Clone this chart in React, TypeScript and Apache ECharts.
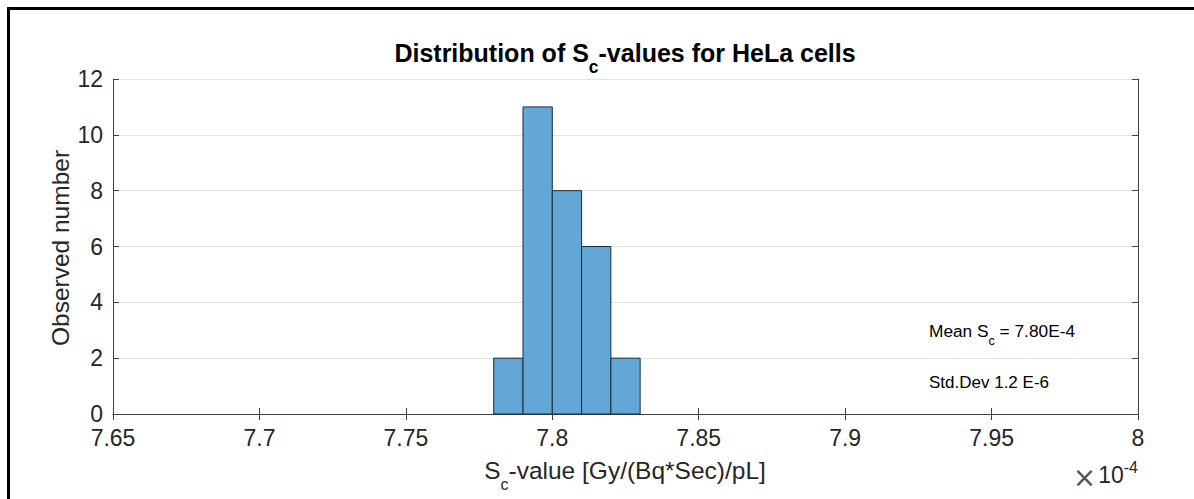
import React, { useEffect, useRef } from "react";
import * as echarts from "echarts";

// Histogram data (x values in units of 1e-4)
const binEdges = [7.78, 7.79, 7.8, 7.81, 7.82, 7.83];
const counts = [2, 11, 8, 6, 2];

const xMin = 7.65;
const xMax = 8;
const xInterval = 0.05;
const yMin = 0;
const yMax = 12;
const yInterval = 2;

const titleMain = "Distribution of S";
const titleSub = "c";
const titleTail = "-values for HeLa cells";
const xLabelMain = "S";
const xLabelSub = "c";
const xLabelTail = "-value [Gy/(Bq*Sec)/pL]";
const yLabel = "Observed number";
const meanText = ["Mean S", "c", " = 7.80E-4"];
const stdText = "Std.Dev 1.2 E-6";
const exponentText = ["\u00d7", "10", "-4"];

const FONT = "'Liberation Sans', Arial, Helvetica, sans-serif";
const TXT = "#262626";

export default function App() {
  const ref = useRef<HTMLDivElement>(null);

  useEffect(() => {
    if (!ref.current) return;
    const chart = echarts.init(ref.current, undefined, { renderer: "svg" });

    const histData = counts.map((c, i) => [binEdges[i], binEdges[i + 1], c]);

    const axisLineStyle = { color: "#404040", width: 1 };

    const option: any = {
      animation: false,
      backgroundColor: "#ffffff",
      textStyle: { fontFamily: FONT },
      grid: { left: 113, right: 56, top: 79, bottom: 85 },
      xAxis: [
        {
          type: "value",
          position: "bottom",
          min: xMin,
          max: xMax,
          interval: xInterval,
          axisLine: { show: true, lineStyle: axisLineStyle },
          axisTick: { show: true, inside: true, length: 6, lineStyle: axisLineStyle },
          axisLabel: {
            show: true,
            fontSize: 23,
            color: TXT,
            fontFamily: FONT,
            margin: 12,
            formatter: (v: number) => String(parseFloat(v.toFixed(2))),
          },
          splitLine: { show: false },
        },
        {
          type: "value",
          position: "top",
          min: xMin,
          max: xMax,
          interval: xInterval,
          axisLine: { show: true, lineStyle: axisLineStyle },
          axisTick: { show: true, inside: true, length: 6, lineStyle: axisLineStyle },
          axisLabel: { show: false },
          splitLine: { show: false },
        },
      ],
      yAxis: [
        {
          type: "value",
          position: "left",
          min: yMin,
          max: yMax,
          interval: yInterval,
          axisLine: { show: true, lineStyle: axisLineStyle },
          axisTick: { show: true, inside: true, length: 6, lineStyle: axisLineStyle },
          axisLabel: { show: true, fontSize: 23, color: TXT, fontFamily: FONT, margin: 10 },
          splitLine: { show: true, lineStyle: { color: "#e3e3e3", width: 1 } },
        },
        {
          type: "value",
          position: "right",
          min: yMin,
          max: yMax,
          interval: yInterval,
          axisLine: { show: true, lineStyle: axisLineStyle },
          axisTick: { show: true, inside: true, length: 6, lineStyle: axisLineStyle },
          axisLabel: { show: false },
          splitLine: { show: false },
        },
      ],
      series: [
        {
          type: "custom",
          xAxisIndex: 0,
          yAxisIndex: 0,
          encode: { x: [0, 1], y: 2 },
          data: histData,
          renderItem: (params: any, api: any) => {
            const x0 = api.value(0);
            const x1 = api.value(1);
            const c = api.value(2);
            const p0 = api.coord([x0, c]);
            const p1 = api.coord([x1, 0]);
            return {
              type: "rect",
              shape: { x: p0[0], y: p0[1], width: p1[0] - p0[0], height: p1[1] - p0[1] },
              style: { fill: "#63a7d7", stroke: "#1b2a38", lineWidth: 1 },
            };
          },
        },
      ],
      graphic: [
        {
          type: "rect",
          silent: true,
          z: 100,
          shape: { x: 8.5, y: 8.5, width: 1400, height: 700 },
          style: { fill: "none", stroke: "#000000", lineWidth: 3 },
        },
        {
          type: "text",
          x: 625,
          y: 53,
          style: {
            text: `{m|${titleMain}}{s|${titleSub}}{m|${titleTail}}`,
            align: "center",
            verticalAlign: "middle",
            rich: {
              m: { fontSize: 25, fontWeight: "bold", fontFamily: FONT, fill: "#000" },
              s: { fontSize: 17.5, fontWeight: "bold", fontFamily: FONT, fill: "#000", padding: [28, 0, 0, 0] },
            },
          },
        },
        {
          type: "text",
          x: 625,
          y: 470,
          style: {
            text: `{m|${xLabelMain}}{s|${xLabelSub}}{m|${xLabelTail}}`,
            align: "center",
            verticalAlign: "middle",
            rich: {
              m: { fontSize: 24.5, fontFamily: FONT, fill: TXT },
              s: { fontSize: 16, fontFamily: FONT, fill: TXT, padding: [28, 0, 0, 0] },
            },
          },
        },
        {
          type: "text",
          x: 60,
          y: 248,
          rotation: Math.PI / 2,
          style: {
            text: yLabel,
            align: "center",
            verticalAlign: "middle",
            fontSize: 24.5,
            fontFamily: FONT,
            fill: TXT,
          },
        },
        {
          type: "text",
          x: 1138,
          y: 475,
          style: {
            text: `{t|${exponentText[0]}}{m|${exponentText[1]}}{s|${exponentText[2]}}`,
            align: "right",
            verticalAlign: "middle",
            rich: {
              t: { fontSize: 28, fontFamily: "'DejaVu Sans', sans-serif", fill: "#555", padding: [4, 2, 0, 0] },
              m: { fontSize: 23, fontFamily: FONT, fill: TXT },
              s: { fontSize: 16, fontFamily: FONT, fill: TXT, padding: [0, 0, 16, 0] },
            },
          },
        },
        {
          type: "text",
          x: 929,
          y: 331,
          style: {
            text: `{m|${meanText[0]}}{s|${meanText[1]}}{m|${meanText[2]}}`,
            align: "left",
            verticalAlign: "middle",
            rich: {
              m: { fontSize: 17.3, fontFamily: FONT, fill: "#000" },
              s: { fontSize: 12.5, fontFamily: FONT, fill: "#000", padding: [20, 0, 0, 0] },
            },
          },
        },
        {
          type: "text",
          x: 929,
          y: 382,
          style: {
            text: stdText,
            align: "left",
            verticalAlign: "middle",
            fontSize: 17,
            fontFamily: FONT,
            fill: "#000",
          },
        },
      ],
    };

    chart.setOption(option);
    return () => chart.dispose();
  }, []);

  return (
    <div
      ref={ref}
      style={{ position: "absolute", left: 0, top: 0, width: 1194, height: 499, background: "#fff" }}
    />
  );
}
